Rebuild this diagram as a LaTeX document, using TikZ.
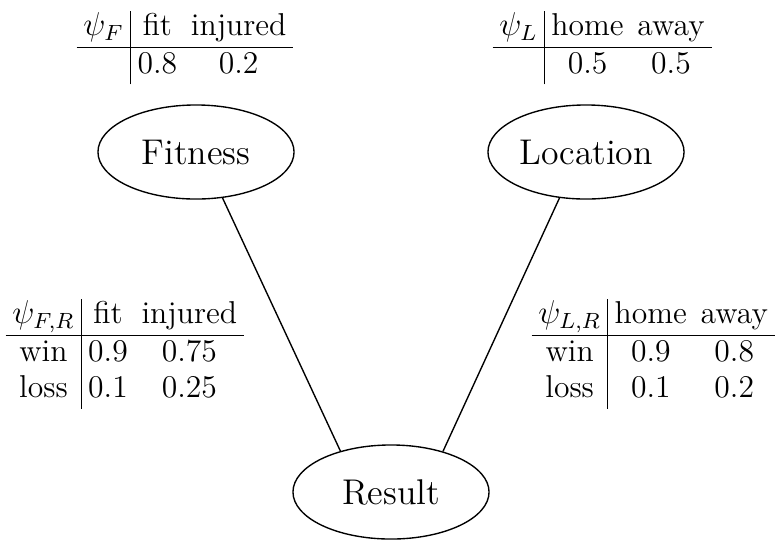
\documentclass[tikz,border=0pt]{standalone}
\usetikzlibrary{shapes.geometric}
\begin{document}
\begin{tikzpicture}[x=0.3636pt, y=-0.3636pt,
  var/.style={ellipse, draw, line width=0.5pt, minimum width=71.3pt, minimum height=34.2pt,
    inner sep=0pt, font=\fontsize{13}{15.6}\selectfont},
  cpt/.style={inner sep=0pt, anchor=north west, font=\fontsize{11.5}{13.2}\selectfont},
  link/.style={line width=0.5pt}]
\useasboundingbox (0,0) rectangle (777,539);
\setlength{\tabcolsep}{2.5pt}
% variables
\node[var] (F) at (196,152) {Fitness};
\node[var] (L) at (586,152) {Location};
\node[var] (R) at (391,492) {Result};
% potential tables
\node[cpt] (tF) at (76,10) {\begin{tabular}{c|cc}
  $\psi_F$ & fit & injured\\ \hline
  & 0.8 & 0.2
\end{tabular}};
\node[cpt] (tL) at (492,10) {\begin{tabular}{c|cc}
  $\psi_L$ & home & away\\ \hline
  & 0.5 & 0.5
\end{tabular}};
\node[cpt] (tFR) at (5,298) {\begin{tabular}{c|cc}
  $\psi_{F,R}$ & fit & injured\\ \hline
  win & 0.9 & 0.75\\
  loss & 0.1 & 0.25
\end{tabular}};
\node[cpt] (tLR) at (531,298) {\begin{tabular}{c|cc}
  $\psi_{L,R}$ & home & away\\ \hline
  win & 0.9 & 0.8\\
  loss & 0.1 & 0.2
\end{tabular}};
% edges
\draw[link] (F.-60) -- (R.141.5);
\draw[link] (L.-120) -- (R.38.5);
\end{tikzpicture}
\end{document}
